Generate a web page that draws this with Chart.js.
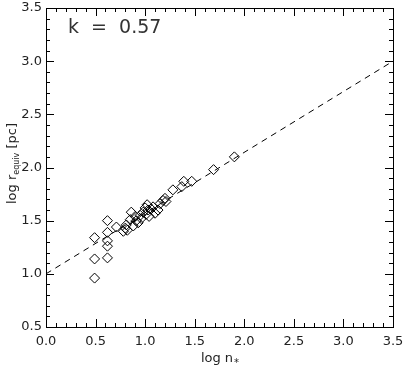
<!DOCTYPE html>
<html>
<head>
<meta charset="utf-8">
<script src="https://cdn.jsdelivr.net/npm/chart.js@4.4.1/dist/chart.umd.min.js"></script>
<style>
html,body{margin:0;padding:0;background:#fff;}
#wrap{width:403px;height:366px;position:relative;}
</style>
</head>
<body>
<div id="wrap"><canvas id="c" width="403" height="366"></canvas></div>
<script>
// log n* values
const logN = [0.49,0.49,0.49,0.62,0.62,0.62,0.62,0.62,0.71,0.78,0.80,0.81,0.82,0.85,0.86,0.88,0.90,0.91,0.93,0.95,0.96,0.98,1.00,1.01,1.02,1.03,1.04,1.06,1.08,1.10,1.13,1.15,1.18,1.20,1.21,1.28,1.37,1.39,1.47,1.69,1.90];
// log r_equiv values
const logR = [0.96,1.14,1.34,1.15,1.26,1.31,1.39,1.50,1.44,1.40,1.43,1.46,1.41,1.51,1.58,1.45,1.54,1.50,1.48,1.55,1.52,1.58,1.62,1.56,1.65,1.60,1.54,1.61,1.63,1.57,1.60,1.66,1.69,1.71,1.68,1.79,1.82,1.87,1.87,1.98,2.10];
// fit line k = 0.57
const fitX = [0.0, 3.5];
const fitY = [1.0, 3.0];
const xTicks = [0.0,0.5,1.0,1.5,2.0,2.5,3.0,3.5];
const yTicks = [0.5,1.0,1.5,2.0,2.5,3.0,3.5];
const annotationText = 'k = 0.57';

const FONT = 'DejaVu Sans';

const framePlugin = {
  id: 'frame',
  afterDraw(chart) {
    const ctx = chart.ctx, a = chart.chartArea;
    const xs = chart.scales.x, ys = chart.scales.y;
    ctx.save();
    ctx.strokeStyle = '#000';
    ctx.lineWidth = 1;
    ctx.strokeRect(Math.round(a.left)+0.5, Math.round(a.top)+0.5, Math.round(a.right-a.left), Math.round(a.bottom-a.top));
    ctx.beginPath();
    for (let i = 0; i <= 35; i++) {
      const v = i/10;
      const len = (i % 5 === 0) ? 8 : 4;
      const px = Math.round(xs.getPixelForValue(v)) + 0.5;
      ctx.moveTo(px, a.bottom); ctx.lineTo(px, a.bottom - len);
      ctx.moveTo(px, a.top); ctx.lineTo(px, a.top + len);
    }
    for (let i = 5; i <= 35; i++) {
      const v = i/10;
      const len = (i % 5 === 0) ? 8 : 4;
      const py = Math.round(ys.getPixelForValue(v)) + 0.5;
      ctx.moveTo(a.left, py); ctx.lineTo(a.left + len, py);
      ctx.moveTo(a.right, py); ctx.lineTo(a.right - len, py);
    }
    ctx.stroke();

    // annotation
    ctx.fillStyle = '#333';
    ctx.font = '19px "' + FONT + '"';
    ctx.textBaseline = 'alphabetic';
    ctx.textAlign = 'left';
    ctx.fillText(annotationText.replace(/ /g, '  '), a.left + 22, a.top + 25);

    ctx.fillStyle = '#222';
    // x title: log n*
    ctx.font = '13px "' + FONT + '"';
    const t1 = 'log n';
    const w1 = ctx.measureText(t1).width;
    ctx.font = '10px "' + FONT + '"';
    const w2 = ctx.measureText('*').width;
    let cx = (a.left + a.right)/2 - (w1 + w2)/2;
    const by = 362;
    ctx.font = '13px "' + FONT + '"';
    ctx.fillText(t1, cx, by);
    ctx.font = '10px "' + FONT + '"';
    ctx.fillText('*', cx + w1 + 1, by + 4);

    // y title: log r_equiv [pc]
    ctx.save();
    ctx.translate(16, (a.top + a.bottom)/2 - 4);
    ctx.rotate(-Math.PI/2);
    ctx.font = '13px "' + FONT + '"';
    const p1 = 'log r', p3 = ' [pc]';
    const q1 = ctx.measureText(p1).width, q3 = ctx.measureText(p3).width;
    ctx.font = '8px "' + FONT + '"';
    const p2 = 'equiv';
    const q2 = ctx.measureText(p2).width;
    let sx = -(q1 + q2 + q3)/2;
    ctx.font = '13px "' + FONT + '"';
    ctx.fillText(p1, sx, 0);
    ctx.font = '8px "' + FONT + '"';
    ctx.fillText(p2, sx + q1, 3);
    ctx.font = '13px "' + FONT + '"';
    ctx.fillText(p3, sx + q1 + q2, 0);
    ctx.restore();
    ctx.restore();
  }
};

new Chart(document.getElementById('c'), {
  type: 'scatter',
  data: {
    datasets: [
      {
        data: logN.map((x, i) => ({x: x, y: logR[i]})),
        pointStyle: 'rectRot',
        pointRadius: 5,
        pointBorderWidth: 1,
        borderColor: '#000',
        backgroundColor: 'rgba(0,0,0,0)',
        showLine: false
      },
      {
        type: 'line',
        data: fitX.map((x, i) => ({x: x, y: fitY[i]})),
        borderColor: '#000',
        borderWidth: 1,
        borderDash: [6, 5],
        pointRadius: 0,
        fill: false
      }
    ]
  },
  options: {
    responsive: false,
    animation: false,
    layout: {padding: {left: 0, top: 8, right: 10, bottom: 0}},
    plugins: {legend: {display: false}, tooltip: {enabled: false}},
    scales: {
      x: {
        type: 'linear', min: 0, max: 3.5,
        afterFit(s) { s.height = 39; s.paddingLeft = 0; s.paddingRight = 0; },
        afterBuildTicks(s) { s.ticks = xTicks.map(v => ({value: v})); },
        grid: {display: false, drawTicks: false},
        border: {display: false},
        ticks: {padding: 7, color: '#222', font: {family: FONT, size: 13}, maxRotation: 0,
                callback: v => Number(v).toFixed(1)}
      },
      y: {
        type: 'linear', min: 0.5, max: 3.5,
        afterFit(s) { s.width = 46; s.paddingTop = 0; s.paddingBottom = 0; },
        afterBuildTicks(s) { s.ticks = yTicks.map(v => ({value: v})); },
        grid: {display: false, drawTicks: false},
        border: {display: false},
        ticks: {padding: 4, color: '#222', font: {family: FONT, size: 13},
                callback: v => Number(v).toFixed(1)}
      }
    }
  },
  plugins: [framePlugin]
});
</script>
</body>
</html>
